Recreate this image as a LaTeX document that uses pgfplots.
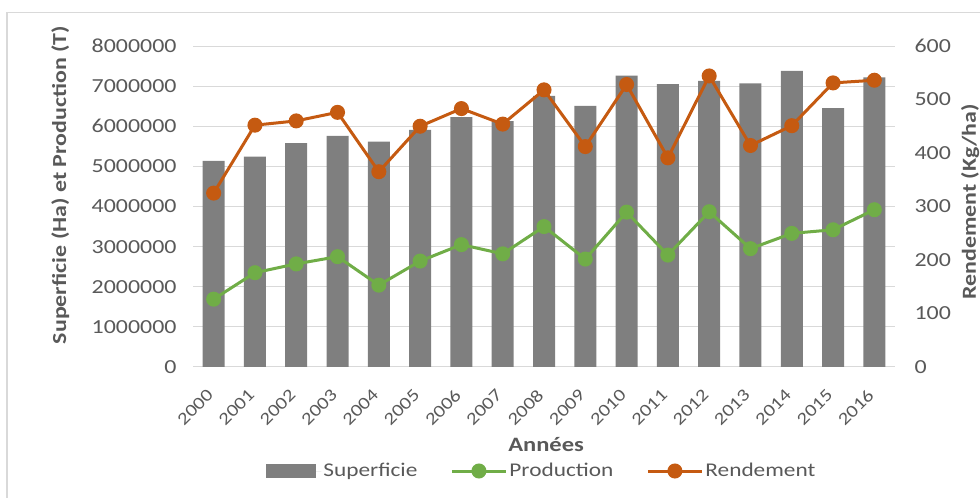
\documentclass[border=0pt]{standalone}
\usepackage{pgfplots}
\pgfplotsset{compat=1.18}
\usepackage{fontspec}
\setmainfont{Carlito}[FakeStretch=1.2]
\definecolor{barc}{HTML}{7F7F7F}
\definecolor{prodc}{HTML}{70AD47}
\definecolor{rendc}{HTML}{C55A11}
\definecolor{txtc}{HTML}{595959}
\definecolor{gridc}{HTML}{D9D9D9}
\pgfplotsset{
  linelegend/.style={legend image code/.code={\draw[##1, mark repeat=2, mark phase=2] plot coordinates {(0bp,0bp)(27bp,0bp)(54bp,0bp)};}},
  barlegend/.style={legend image code/.code={\fill[barc] (0bp,-7bp) rectangle (50bp,7bp); \path (0bp,0bp) -- (55bp,0bp);}},
}
\begin{document}
\begin{tikzpicture}
\draw[gridc, line width=1.5bp] (7bp,-10bp) rectangle (995bp,485.5bp);
\begin{axis}[
  at={(193bp,131bp)}, anchor=south west,
  scale only axis, width=702bp, height=321bp,
  xmin=-0.5, xmax=16.5, ymin=0, ymax=8000000,
  xtick={0,...,16},
  xticklabels={2000,2001,2002,2003,2004,2005,2006,2007,2008,2009,2010,2011,2012,2013,2014,2015,2016},
  ytick={0,1000000,...,8000000},
  scaled y ticks=false,
  /pgf/number format/.cd, fixed, precision=0, 1000 sep={}, assume math mode=true,
  /pgfplots/.cd,
  major tick length=0pt,
  axis line style={draw=none},
  ymajorgrids, major grid style={gridc, line width=1bp},
  tick label style={font=\fontsize{20}{22}\selectfont, text=txtc},
  yticklabel style={xshift=-13bp},
  xticklabel style={font=\fontsize{17.5}{20}\selectfont, xshift=-1bp, yshift=-23bp, rotate=45, anchor=east},
  xlabel={Années},
  xlabel style={font=\fontsize{20.5}{24}\selectfont\bfseries, text=txtc, at={(axis description cs:0.503,-0.243)}, anchor=center},
  ylabel={Superficie (Ha) et Production (T)},
  ylabel style={font=\fontsize{20}{24}\selectfont\bfseries, text=txtc, at={(axis description cs:-0.189,0.567)}, anchor=center},
  legend columns=3,
  legend style={at={(axis description cs:0.497,-0.324)}, anchor=center, draw=none, fill=none,
    font=\fontsize{19.5}{24}\selectfont, text=txtc,
    /tikz/every even column/.append style={column sep=31bp}},
  clip=false,
]
\addplot[ybar, bar width=22bp, fill=barc, draw=none, barlegend]
  coordinates {(0,5140000)(1,5240000)(2,5580000)(3,5760000)(4,5620000)(5,5910000)(6,6230000)(7,6130000)(8,6760000)(9,6510000)(10,7260000)(11,7050000)(12,7130000)(13,7070000)(14,7380000)(15,6450000)(16,7220000)};
\addlegendentry{Superficie}
\addplot[prodc, line width=3bp, mark=*, mark size=6bp, mark options={fill=prodc, draw=prodc}, linelegend]
  coordinates {(0,1690000)(1,2350000)(2,2570000)(3,2750000)(4,2040000)(5,2640000)(6,3050000)(7,2820000)(8,3500000)(9,2690000)(10,3860000)(11,2790000)(12,3870000)(13,2950000)(14,3330000)(15,3420000)(16,3920000)};
\addlegendentry{Production}
\addlegendimage{rendc, line width=3bp, mark=*, mark size=6bp, mark options={fill=rendc, draw=rendc}, linelegend}
\addlegendentry{Rendement}
\end{axis}
\begin{axis}[
  at={(193bp,131bp)}, anchor=south west,
  scale only axis, width=702bp, height=321bp,
  xmin=-0.5, xmax=16.5, ymin=0, ymax=600,
  ytick={0,100,...,600},
  axis x line=none,
  axis y line*=right,
  /pgf/number format/assume math mode=true,
  major tick length=0pt,
  axis line style={draw=none},
  tick label style={font=\fontsize{20}{22}\selectfont, text=txtc},
  yticklabel style={xshift=16bp},
  ylabel={Rendement (Kg/ha)},
  ylabel style={font=\fontsize{20}{24}\selectfont\bfseries, text=txtc, at={(axis description cs:1.107,0.514)}, anchor=center},
  clip=false,
]
\addplot[rendc, line width=3bp, mark=*, mark size=6bp, mark options={fill=rendc, draw=rendc}]
  coordinates {(0,325)(1,452)(2,460)(3,476)(4,365)(5,450)(6,483)(7,454)(8,518)(9,412)(10,528)(11,391)(12,544)(13,414)(14,451)(15,531)(16,536)};
\end{axis}
\pgfresetboundingbox
\path[use as bounding box] (0,0) rectangle (980bp,498bp);
\end{tikzpicture}
\end{document}
